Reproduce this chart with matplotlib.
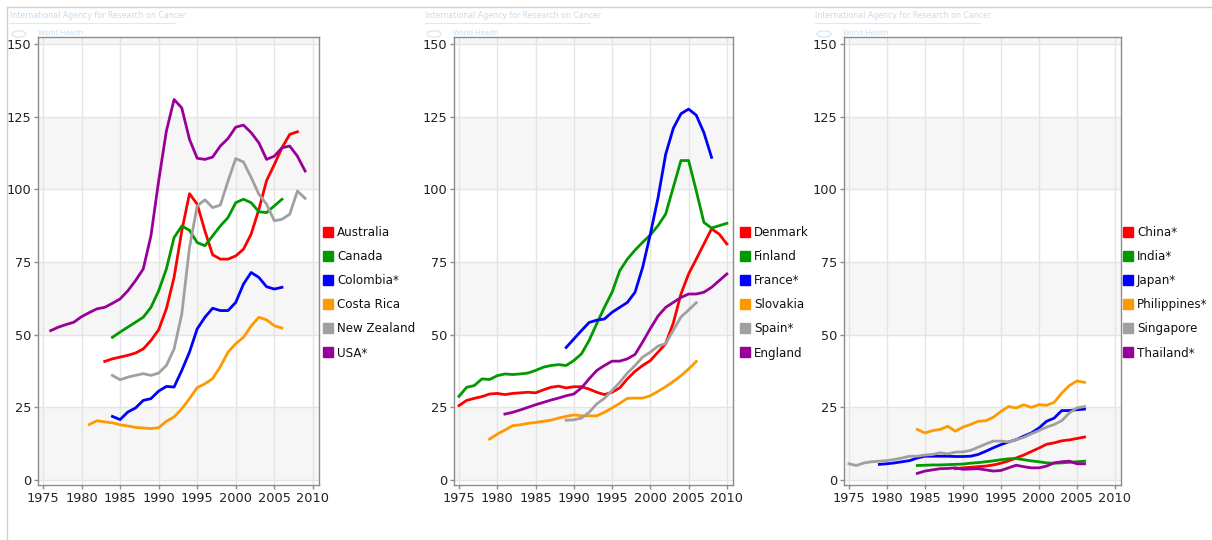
import matplotlib
matplotlib.use('Agg')
import matplotlib.pyplot as plt
from matplotlib.lines import Line2D
from matplotlib.patches import Circle
import numpy as np

plt.rcParams['font.family'] = ['DejaVu Sans']

# colours used by the source tool
RED = '#ff0000'
GREEN = '#009900'
BLUE = '#0000ff'
ORANGE = '#ff9900'
GREY = '#a0a0a0'
PURPLE = '#990099'

# ---- panel 1 ----
australia_start = 1983
australia = [40.8, 41.7, 42.3, 42.9, 43.7, 45.1, 48.0, 51.7, 58.9, 69.7, 85.7, 98.5, 94.9,
             85.7, 77.5, 76.0, 76.0, 77.1, 79.4, 84.6, 93.1, 103.0, 108.5, 114.3, 118.9, 119.8]
canada_start = 1984
canada = [49.1, 50.9, 52.6, 54.3, 56.0, 59.4, 65.1, 72.6, 83.4, 87.4, 85.9, 81.7, 80.6, 84.0,
          87.4, 90.3, 95.4, 96.6, 95.4, 92.3, 92.0, 94.3, 96.6]
colombia_start = 1984
colombia = [21.9, 20.8, 23.4, 24.8, 27.4, 28.0, 30.6, 32.2, 32.0, 37.7, 44.0, 52.0, 56.0,
            59.1, 58.3, 58.3, 61.1, 67.4, 71.4, 69.7, 66.5, 65.7, 66.3]
costa_rica_start = 1981
costa_rica = [19.1, 20.4, 20.0, 19.7, 19.0, 18.6, 18.1, 17.9, 17.7, 18.0, 20.2, 21.7, 24.5,
              28.0, 31.8, 33.1, 34.9, 39.0, 44.0, 46.9, 49.1, 53.0, 56.0, 55.1, 53.1, 52.3]
new_zealand_start = 1984
new_zealand = [36.0, 34.5, 35.4, 36.0, 36.6, 36.0, 36.8, 39.4, 45.1, 57.1, 80.0, 94.3, 96.4,
               93.7, 94.6, 102.9, 110.6, 109.4, 104.1, 98.3, 94.9, 89.2, 89.7, 91.4, 99.4, 96.9]
usa_start = 1976
usa = [51.4, 52.6, 53.5, 54.3, 56.2, 57.6, 58.9, 59.4, 60.8, 62.3, 65.1, 68.6, 72.6, 84.0,
       102.9, 120.0, 130.9, 128.0, 117.2, 110.7, 110.3, 111.1, 114.9, 117.5, 121.4, 122.1,
       119.5, 116.0, 110.3, 111.4, 114.3, 114.9, 111.4, 106.3]

# ---- panel 2 ----
denmark_start = 1975
denmark = [25.6, 27.4, 28.1, 28.7, 29.6, 29.8, 29.4, 29.8, 30.0, 30.2, 30.0, 31.0, 31.9, 32.3,
           31.7, 32.1, 32.1, 31.3, 30.2, 29.4, 30.2, 31.7, 34.8, 37.4, 39.4, 41.1, 44.0, 46.9,
           54.0, 64.0, 70.9, 76.0, 81.2, 86.4, 84.6, 81.2]
finland_start = 1975
finland = [28.8, 31.9, 32.5, 34.8, 34.6, 35.9, 36.5, 36.3, 36.5, 36.8, 37.7, 38.8, 39.4, 39.7,
           39.4, 41.1, 43.4, 48.0, 53.8, 59.4, 64.6, 72.0, 76.0, 79.1, 81.8, 84.3, 87.5, 91.5,
           100.7, 109.9, 109.9, 99.5, 88.6, 86.7, 87.5, 88.3]
france_start = 1989
france = [45.6, 48.5, 51.4, 54.2, 55.0, 55.4, 57.7, 59.4, 61.1, 64.6, 73.2, 84.6, 97.0,
          112.0, 121.0, 126.0, 127.6, 125.5, 119.5, 111.0]
slovakia_start = 1979
slovakia = [14.1, 15.8, 17.2, 18.7, 19.0, 19.5, 19.8, 20.2, 20.6, 21.3, 21.9, 22.4, 22.1, 22.1,
            22.1, 23.3, 24.8, 26.4, 28.1, 28.2, 28.2, 29.0, 30.5, 32.1, 33.9, 35.9, 38.2, 40.8]
spain_start = 1989
spain = [20.6, 20.7, 21.3, 23.3, 26.2, 28.1, 30.8, 33.6, 36.8, 39.4, 42.3, 44.0, 46.1, 46.9,
         51.5, 56.1, 58.5, 61.0]
england_start = 1981
england = [22.7, 23.3, 24.1, 25.0, 25.9, 26.7, 27.5, 28.2, 29.0, 29.6, 31.7, 34.8, 37.7, 39.4,
           40.9, 40.9, 41.7, 43.2, 47.5, 52.1, 56.4, 59.4, 61.1, 62.8, 64.0, 64.0, 64.6, 66.3,
           68.6, 70.9]

# ---- panel 3 ----
china_start = 1989
china = [3.9, 4.2, 4.4, 4.6, 4.8, 5.2, 5.8, 6.6, 7.6, 8.6, 9.8, 11.0, 12.3, 12.8, 13.5, 13.8,
         14.3, 14.8]
india_start = 1984
india = [5.0, 5.1, 5.2, 5.2, 5.3, 5.4, 5.5, 5.8, 6.0, 6.3, 6.6, 7.0, 7.3, 7.4, 7.0, 6.6, 6.3,
         5.9, 5.8, 5.9, 6.1, 6.3, 6.5]
japan_start = 1979
japan = [5.4, 5.6, 5.9, 6.3, 6.7, 7.6, 8.2, 8.2, 8.2, 8.2, 8.1, 8.1, 8.2, 8.8, 9.9, 11.1, 12.2,
         13.1, 13.9, 15.1, 16.2, 17.9, 20.2, 21.3, 23.9, 23.9, 24.2, 24.4]
philippines_start = 1984
philippines = [17.4, 16.2, 17.0, 17.4, 18.5, 16.8, 18.2, 19.1, 20.2, 20.4, 21.6, 23.6, 25.3,
               24.8, 25.9, 25.0, 25.9, 25.7, 26.7, 29.9, 32.5, 34.1, 33.6]
singapore_start = 1975
singapore = [5.6, 5.0, 5.9, 6.3, 6.5, 6.7, 7.1, 7.6, 8.2, 8.2, 8.6, 8.8, 9.4, 9.0, 9.6, 9.7,
             10.2, 11.3, 12.4, 13.4, 13.4, 13.1, 13.9, 14.7, 15.9, 17.0, 18.2, 19.1, 20.4,
             23.1, 24.8, 25.3]
thailand_start = 1984
thailand = [2.3, 3.1, 3.5, 3.9, 4.0, 4.2, 3.7, 3.8, 3.9, 3.5, 3.1, 3.3, 4.2, 5.1, 4.6, 4.2,
            4.2, 4.8, 5.9, 6.3, 6.5, 5.6, 5.6]

panels = [
    [('Australia', australia_start, australia, RED),
     ('Canada', canada_start, canada, GREEN),
     ('Colombia*', colombia_start, colombia, BLUE),
     ('Costa Rica', costa_rica_start, costa_rica, ORANGE),
     ('New Zealand', new_zealand_start, new_zealand, GREY),
     ('USA*', usa_start, usa, PURPLE)],
    [('Denmark', denmark_start, denmark, RED),
     ('Finland', finland_start, finland, GREEN),
     ('France*', france_start, france, BLUE),
     ('Slovakia', slovakia_start, slovakia, ORANGE),
     ('Spain*', spain_start, spain, GREY),
     ('England', england_start, england, PURPLE)],
    [('China*', china_start, china, RED),
     ('India*', india_start, india, GREEN),
     ('Japan*', japan_start, japan, BLUE),
     ('Philippines*', philippines_start, philippines, ORANGE),
     ('Singapore', singapore_start, singapore, GREY),
     ('Thailand*', thailand_start, thailand, PURPLE)],
]

xticks = [1975, 1980, 1985, 1990, 1995, 2000, 2005, 2010]
yticks = [0, 25, 50, 75, 100, 125, 150]

W, H = 1212, 540
# axes boxes in pixels: left, right, top, bottom
boxes = [(38, 319, 37, 485), (454, 733, 37, 485), (844, 1121, 37, 485)]
legend_x = [321, 738, 1121]
watermark_x = [10, 425, 815]


def draw_panel(fig, box, series, lx, wx):
    l, r, t, b = box
    ax = fig.add_axes([l / W, 1 - b / H, (r - l) / W, (b - t) / H])
    ax.set_xlim(1974.35, 2010.8)
    ax.set_ylim(-1.7, 152.4)
    for lo in (0, 50, 100, 150):
        ax.axhspan(lo, lo + 25, color='#f6f6f6', zorder=0, lw=0)
    ax.set_xticks(xticks)
    ax.set_yticks(yticks)
    ax.grid(True, color='#e4e4e4', linewidth=1, zorder=1)
    ax.set_axisbelow(True)
    for s in ax.spines.values():
        s.set_color('#8c8c8c')
        s.set_linewidth(1)
    ax.tick_params(length=3, width=1, color='#8c8c8c', labelsize=9.3,
                   labelcolor='#222222', pad=2)

    handles = []
    for name, start, vals, col in series:
        yrs = np.arange(start, start + len(vals))
        ax.plot(yrs, vals, color=col, lw=2.0, solid_joinstyle='round', zorder=3)
        handles.append(Line2D([], [], marker='s', linestyle='', markersize=7.5,
                              markerfacecolor=col, markeredgecolor=col, label=name))
    fig.legend(handles=handles, loc='upper left',
               bbox_to_anchor=(lx / W, 1 - 226 / H), frameon=False,
               fontsize=8.6, labelspacing=0.93, handletextpad=0.15,
               borderpad=0, borderaxespad=0, handlelength=1.2,
               labelcolor='#111111')

    # faint watermark of the source site
    fig.text(wx / W, 1 - 16 / H, 'International Agency for Research on Cancer',
             fontsize=5.7, color='#c5dcf0', va='center', ha='left')
    fig.add_artist(Line2D([wx / W, (wx + 165) / W], [1 - 23 / H, 1 - 23 / H],
                          color='#dce9f5', lw=0.8))
    fig.add_artist(Circle(((wx + 9) / W, 1 - 34 / H), 7 / W, color='#dce9f5',
                          transform=fig.transFigure, fill=False, lw=1))
    fig.text((wx + 28) / W, 1 - 33 / H, 'World Health', fontsize=5,
             color='#c5dcf0', va='center', ha='left')


fig = plt.figure(figsize=(W / 100, H / 100), dpi=100)
fig.patch.set_facecolor('white')

# thin border of the original screenshot
fig.add_artist(Line2D([7 / W, 1], [1 - 7 / H, 1 - 7 / H], color='#d0d0d0', lw=1))
fig.add_artist(Line2D([7 / W, 7 / W], [0, 1 - 7 / H], color='#d0d0d0', lw=1))

for box, series, lx, wx in zip(boxes, panels, legend_x, watermark_x):
    draw_panel(fig, box, series, lx, wx)

fig.savefig('out.png', dpi=100)
